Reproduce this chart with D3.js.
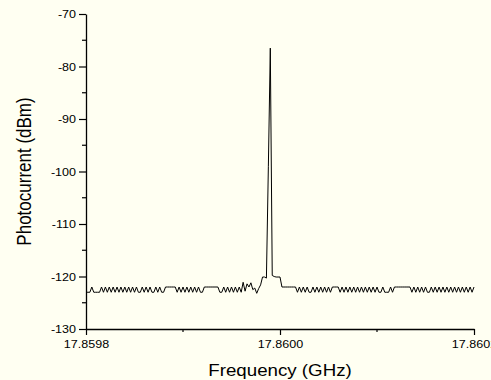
<!DOCTYPE html>
<html><head><meta charset="utf-8">
<script src="https://cdn.jsdelivr.net/npm/d3@7/dist/d3.min.js"></script>
<style>
html,body{margin:0;padding:0;background:#fffff2;}
svg{display:block;font-family:"Liberation Sans",Arial,sans-serif;}
</style></head>
<body>
<script>
// ---- data ----
const freqStart = 17.8598;           // GHz, first sweep point
const freqStop = 17.8602;            // GHz, last sweep point
const H = -122, L = -123;
const powerDbm = [
 L,L,L,H,L,L,L,L,
 H,L,H,L,H,L,H,L,H,L,H,L,H,L,H,L,H,L,H,L,L,H,
 L,H,L,H,L,L,H,L,H,L,L,
 H,H,H,H,H,H,
 L,H,L,H,L,H,L,H,L,H,L,H,L,L,H,
 H,H,H,H,H,H,H,
 L,L,H,L,H,L,H,L,H,
 L,H,L,-121.1,-122.8,-121.4,-122,-121.2,-122.5,-122.2,-123.2,-122.3,-121.6,
 -120.1,-120.1,-120.3,-99,-76.5,-119.8,-120,-120.1,-120.1,-120.1,
 H,H,H,H,H,H,H,H,
 L,H,L,H,L,H,L,L,H,L,H,L,H,L,H,L,H,L,H,H,H,H,
 L,H,L,H,L,H,L,H,L,H,L,H,L,H,L,H,L,H,L,H,L,L,H,L,L,L,H,L,H,
 H,H,H,H,H,H,H,H,
 L,H,L,H,L,H,L,H,L,L,H,L,H,L,H,L,H,L,H,L,H,L,H,L,H,L,H,L,H,L,H,L,H
];
const xTicks = [17.8598, 17.8600, 17.8602];
const xMinorTicks = [17.8599, 17.8601];
const yTicks = [-130, -120, -110, -100, -90, -80, -70];
const yMinorTicks = [-125, -115, -105, -95, -85, -75];
const xTitle = "Frequency (GHz)";
const yTitle = "Photocurrent (dBm)";

// ---- layout ----
const W = 491, Hh = 380;
const m = {left: 86, right: 17, top: 14, bottom: 51};
const sx = 1.14; // horizontal text stretch seen in the reference
const svg = d3.select("body").append("svg").attr("width", W).attr("height", Hh);
svg.append("rect").attr("width", W).attr("height", Hh).attr("fill", "#fffff2");

const x = d3.scaleLinear().domain([freqStart, freqStop]).range([m.left, W - m.right]);
const y = d3.scaleLinear().domain([-130, -70]).range([Hh - m.bottom, m.top]);

const n = powerDbm.length;
const pts = powerDbm.map((v, i) => [freqStart + (freqStop - freqStart) * i / (n - 1), v]);

// trace
svg.append("path").datum(pts)
  .attr("fill", "none").attr("stroke", "#000").attr("stroke-width", 1)
  .attr("stroke-linejoin", "miter")
  .attr("d", d3.line().x(d => x(d[0])).y(d => y(d[1])));

// axes
const gx = svg.append("g").attr("transform", `translate(0,${Hh - m.bottom})`);
gx.call(d3.axisBottom(x).tickValues(xTicks).tickFormat(d3.format(".4f")).tickSizeInner(6).tickSizeOuter(0).tickPadding(5));
gx.call(g => g.selectAll(".minor").data(xMinorTicks).enter().append("line")
  .attr("class", "minor").attr("x1", d => x(d)).attr("x2", d => x(d)).attr("y1", 0).attr("y2", 3)
  .attr("stroke", "#000").attr("stroke-width", 1.2));

const gy = svg.append("g").attr("transform", `translate(${m.left},0)`);
gy.call(d3.axisLeft(y).tickValues(yTicks).tickFormat(d3.format("d")).tickSizeInner(7).tickSizeOuter(0).tickPadding(3));
gy.call(g => g.selectAll(".minor").data(yMinorTicks).enter().append("line")
  .attr("class", "minor").attr("x1", 0).attr("x2", -4).attr("y1", d => y(d)).attr("y2", d => y(d))
  .attr("stroke", "#000").attr("stroke-width", 1.2));

svg.selectAll(".domain").attr("stroke", "#000").attr("stroke-width", 1.3);
svg.selectAll(".tick line").attr("stroke", "#000").attr("stroke-width", 1.2);
svg.selectAll(".tick text").attr("fill", "#000").style("font-size", "11px")
  .style("font-family", "'Liberation Sans', Arial, sans-serif");
gx.selectAll(".tick text").attr("transform", `scale(${sx},1)`);
gy.selectAll(".tick text").text(d => d < 0 ? "-" + Math.abs(d) : d)
  .attr("x", -10 / sx).attr("transform", `scale(${sx},1)`);

// titles
svg.append("text")
  .attr("transform", `translate(${(m.left + W - m.right) / 2},376) scale(1.17,1)`)
  .attr("text-anchor", "middle").style("font-size", "16px").attr("fill", "#000").text(xTitle);
svg.append("text")
  .attr("transform", `translate(31,${(m.top + Hh - m.bottom) / 2}) scale(${sx},1) rotate(-90)`)
  .attr("text-anchor", "middle").style("font-size", "17px").attr("fill", "#000").text(yTitle);
</script>
</body></html>
